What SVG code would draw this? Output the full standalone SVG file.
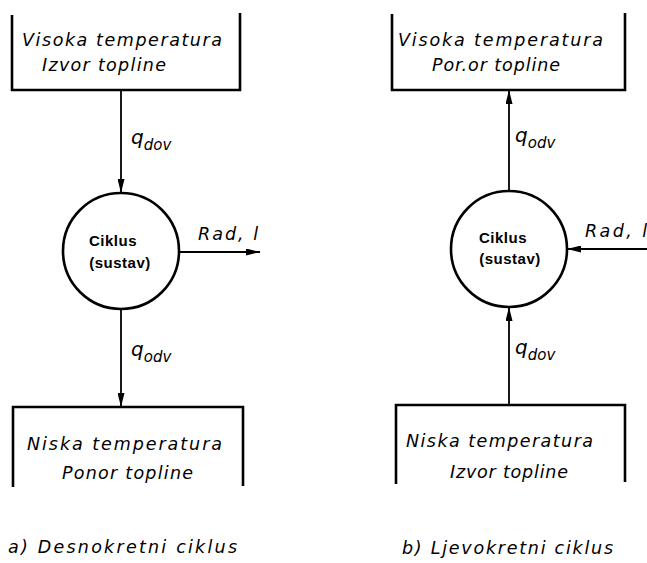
<svg xmlns="http://www.w3.org/2000/svg" width="647" height="563" viewBox="0 0 647 563">
<style>
.box{fill:none;stroke:#000;stroke-width:2.6}
.cyc{fill:#fff;stroke:#000;stroke-width:2.6}
.ln{fill:none;stroke:#000;stroke-width:1.8}
.t{font-family:"DejaVu Sans","Liberation Sans",sans-serif;font-style:italic;font-size:17.5px;fill:#000}
.q{font-family:"DejaVu Sans","Liberation Sans",sans-serif;font-style:italic;font-size:20px;fill:#000}
.b{font-family:"Liberation Sans",Arial,sans-serif;font-weight:bold;font-size:15px;letter-spacing:0.5px;fill:#000}
</style>
<defs>
<marker id="ah" viewBox="0 0 14 7" refX="14" refY="3.5" markerWidth="14" markerHeight="7" markerUnits="userSpaceOnUse" orient="auto">
<path d="M0,0 L14,3.5 L0,7 Z" fill="#000"/>
</marker>
</defs>
<rect width="647" height="563" fill="#fff"/>

<g id="connectors">
<line class="ln" x1="121" y1="90" x2="121" y2="193" marker-end="url(#ah)"/>
<line class="ln" x1="180" y1="252" x2="260" y2="252" marker-end="url(#ah)"/>
<line class="ln" x1="121" y1="310" x2="121" y2="407" marker-end="url(#ah)"/>
<line class="ln" x1="509" y1="191" x2="509" y2="90" marker-end="url(#ah)"/>
<line class="ln" x1="647" y1="249" x2="567" y2="249" marker-end="url(#ah)"/>
<line class="ln" x1="509" y1="405" x2="509" y2="307" marker-end="url(#ah)"/>
<text class="q" x="131" y="144">q<tspan font-size="15" dy="6">dov</tspan></text>
<text class="q" x="131" y="356">q<tspan font-size="15" dy="6">odv</tspan></text>
<text class="q" x="515" y="142">q<tspan font-size="15" dy="6">odv</tspan></text>
<text class="q" x="515" y="354">q<tspan font-size="15" dy="6">dov</tspan></text>
<text class="t" x="198" y="240" font-size="21" textLength="60" lengthAdjust="spacing">Rad, l</text>
<text class="t" x="585" y="237" font-size="21" textLength="62" lengthAdjust="spacing">Rad, l</text>
</g>

<g id="a-hot">
<path class="box" d="M12,15 V90 H240 V13"/>
<text class="t" x="22" y="46" textLength="200" lengthAdjust="spacing">Visoka temperatura</text>
<text class="t" x="42" y="71" textLength="124" lengthAdjust="spacing">Izvor topline</text>
</g>
<g id="a-cycle">
<circle class="cyc" cx="121" cy="251" r="58"/>
<text class="b" x="113" y="246" text-anchor="middle">Ciklus</text>
<text class="b" x="120" y="268" text-anchor="middle">(sustav)</text>
</g>
<g id="a-cold">
<path class="box" d="M13,487 V407 H243 V486"/>
<text class="t" x="27" y="450" textLength="195" lengthAdjust="spacing">Niska temperatura</text>
<text class="t" x="62" y="479" textLength="131" lengthAdjust="spacing">Ponor topline</text>
</g>
<text class="t" x="8" y="553" textLength="229" lengthAdjust="spacing">a) Desnokretni ciklus</text>

<g id="b-hot">
<path class="box" d="M392,14 V90 H625 V13"/>
<text class="t" x="398" y="46" textLength="205" lengthAdjust="spacing">Visoka temperatura</text>
<text class="t" x="432" y="71" textLength="128" lengthAdjust="spacing">Por.or topline</text>
</g>
<g id="b-cycle">
<circle class="cyc" cx="509" cy="249" r="58"/>
<text class="b" x="503" y="243" text-anchor="middle">Ciklus</text>
<text class="b" x="510" y="264" text-anchor="middle">(sustav)</text>
</g>
<g id="b-cold">
<path class="box" d="M396,484 V405 H625 V482"/>
<text class="t" x="406" y="447" textLength="187" lengthAdjust="spacing">Niska temperatura</text>
<text class="t" x="450" y="478" textLength="118" lengthAdjust="spacing">Izvor topline</text>
</g>
<text class="t" x="402" y="554" textLength="211" lengthAdjust="spacing">b) Ljevokretni ciklus</text>
</svg>
